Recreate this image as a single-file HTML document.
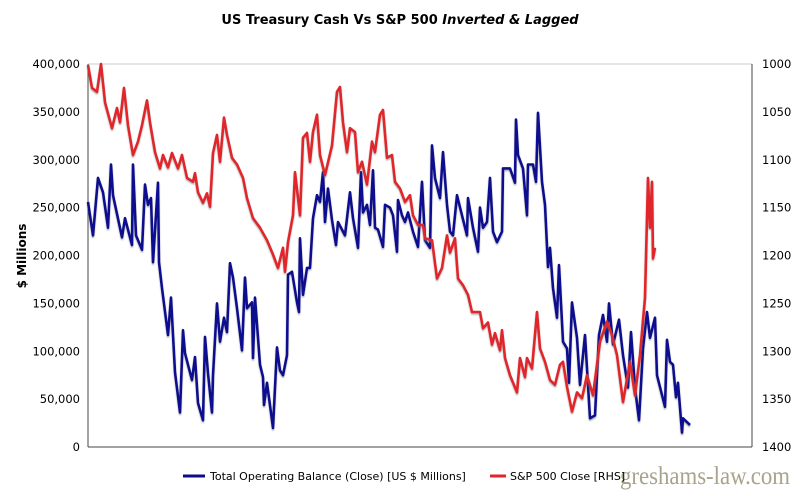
<!DOCTYPE html>
<html><head><meta charset="utf-8"><style>
body{margin:0;background:#fff;}
svg text{font-family:"DejaVu Sans","Liberation Sans",sans-serif;}
</style></head><body>
<svg id="chart" width="800" height="491" viewBox="0 0 800 491">
<defs><filter id="sh" x="-5%" y="-5%" width="110%" height="115%"><feDropShadow dx="0" dy="1.5" stdDeviation="0.8" flood-color="#777" flood-opacity="0.6"/></filter></defs>
<text x="400" y="24" text-anchor="middle" font-size="13" font-weight="bold">US Treasury Cash Vs S&amp;P 500 <tspan font-style="italic">Inverted &amp; Lagged</tspan></text>
<text transform="translate(26,256) rotate(-90)" text-anchor="middle" font-size="12" font-weight="bold">$ Millions</text>
<line x1="88" y1="64" x2="752" y2="64" stroke="#ccc"/>
<line x1="752" y1="64" x2="752" y2="447" stroke="#444"/>
<line x1="88" y1="64" x2="88" y2="447" stroke="#444"/>
<line x1="88" y1="447" x2="752" y2="447" stroke="#444"/>
<g id="lticks"></g><g id="rticks"></g>
<g id="series"></g>
<line x1="183" y1="476" x2="205" y2="476" stroke="#0b0b8f" stroke-width="3"/>
<text x="210" y="480" font-size="11">Total Operating Balance (Close) [US $ Millions]</text>
<text x="620" y="484" font-size="25" textLength="170" lengthAdjust="spacingAndGlyphs" fill="#a8a38a" style="font-family:'Liberation Serif',serif">greshams-law.com</text>
<line x1="490" y1="476" x2="506" y2="476" stroke="#e0262b" stroke-width="3"/>
<text x="510" y="480" font-size="11">S&amp;P 500 Close [RHS]</text>
</svg>
<script>
const leftTicks=[0,50000,100000,150000,200000,250000,300000,350000,400000];
const rightTicks=[1000,1050,1100,1150,1200,1250,1300,1350,1400];
const cashDays=[0,5,10,15,20,23,25,34,37,44,45,48,54,57,60,63,65,70,71,74,80,83,87,92,95,97,104,107,110,115,117,120,124,125,129,132,136,139,142,145,149,154,157,159,164,165,167,172,175,176,179,185,189,192,195,199,200,204,209,211,212,215,219,222,225,229,232,235,237,240,244,248,250,257,262,265,270,273,275,279,282,285,287,290,295,297,302,305,309,310,314,317,320,325,330,334,337,342,344,347,352,355,359,362,365,369,374,379,380,385,390,392,395,399,402,405,409,414,415,422,427,428,430,435,439,440,445,448,450,454,457,460,462,465,469,471,475,479,481,484,489,492,497,502,507,511,515,519,521,525,531,535,540,543,547,551,555,559,562,567,569,577,579,582,585,588,590,594,595,602];
const cashValues=[256,221,281,266,229,295,263,219,239,211,295,221,206,274,253,260,193,276,193,166,117,156,78,36,122,98,70,94,46,28,115,77,36,75,150,110,135,120,192,177,145,101,177,145,151,93,156,86,73,44,67,20,104,80,75,96,180,183,151,141,218,159,187,187,239,263,256,287,235,270,237,211,235,221,266,239,208,287,245,253,232,289,229,227,209,253,250,242,204,258,242,235,245,225,209,277,216,208,315,281,260,308,253,225,221,263,242,221,260,229,204,250,229,235,281,225,214,225,291,291,276,342,305,291,242,295,295,277,349,277,253,188,208,166,135,190,110,103,67,151,114,65,117,30,33,117,138,110,150,107,133,96,62,120,62,28,103,141,114,135,75,42,112,89,86,52,67,15,30,23].map(v=>v*1000);
const spDays=[0,4,9,13,17,24,29,32,36,40,45,50,54,59,62,67,72,75,80,84,90,94,99,105,107,110,115,119,122,125,129,132,136,139,144,149,155,159,165,172,179,185,190,195,197,200,205,207,212,215,219,222,225,229,232,237,244,249,252,255,259,262,267,270,274,279,284,287,292,295,299,304,307,312,317,322,325,330,335,337,344,349,354,359,362,367,370,375,380,384,392,395,400,404,407,412,414,417,422,429,432,437,439,444,449,452,457,462,467,472,475,479,484,489,494,499,505,512,519,524,529,535,542,547,552,557,560,562,564,565,567];
const spValues=[1001,1025,1029,1000,1040,1067,1046,1061,1025,1064,1095,1081,1064,1038,1061,1092,1109,1095,1108,1093,1109,1095,1119,1123,1114,1134,1145,1135,1149,1093,1074,1102,1056,1074,1098,1105,1119,1140,1161,1171,1184,1199,1213,1192,1217,1186,1158,1113,1158,1077,1072,1102,1071,1053,1095,1116,1085,1029,1024,1061,1092,1067,1071,1113,1102,1126,1081,1092,1053,1048,1098,1095,1123,1130,1144,1137,1158,1168,1168,1182,1184,1224,1213,1179,1197,1182,1224,1231,1241,1259,1259,1276,1270,1293,1281,1299,1278,1307,1325,1343,1307,1327,1307,1318,1259,1297,1311,1330,1335,1314,1311,1337,1363,1343,1349,1325,1346,1290,1269,1283,1304,1353,1311,1346,1304,1244,1119,1171,1123,1203,1192];
const NS='http://www.w3.org/2000/svg';
const X0=88,X1=752,Y0=64,Y1=447,DAYS=664;
const xs=d=>X0+d*(X1-X0)/DAYS;
const yL=v=>Y1-v*(Y1-Y0)/400000;
const yR=v=>Y0+(v-1000)*(Y1-Y0)/400;
const lt=document.getElementById('lticks'),rt=document.getElementById('rticks'),sg=document.getElementById('series');
leftTicks.forEach(v=>{const t=document.createElementNS(NS,'text');


t.setAttribute('x',80);t.setAttribute('y',yL(v)+4);t.setAttribute('text-anchor','end');t.setAttribute('font-size','11.5');
t.textContent=v===0?'0':v.toLocaleString('en-US');lt.appendChild(t);});
rightTicks.forEach(v=>{const t=document.createElementNS(NS,'text');


t.setAttribute('x',762);t.setAttribute('y',yR(v)+4);t.setAttribute('font-size','11.5');
t.textContent=v;rt.appendChild(t);});
function line(days,vals,fy,col){const p=document.createElementNS(NS,'polyline');
p.setAttribute('points',days.map((d,i)=>xs(d).toFixed(1)+','+fy(vals[i]).toFixed(1)).join(' '));
p.setAttribute('fill','none');p.setAttribute('stroke',col);p.setAttribute('stroke-width','2.6');p.setAttribute('stroke-linejoin','round');p.setAttribute('filter','url(#sh)');
sg.appendChild(p);return p;}
const pc=line(cashDays,cashValues,yL,'#0b0b8f');


const ps=line(spDays,spValues,yR,'#e0262b');


</script>
</body></html>
